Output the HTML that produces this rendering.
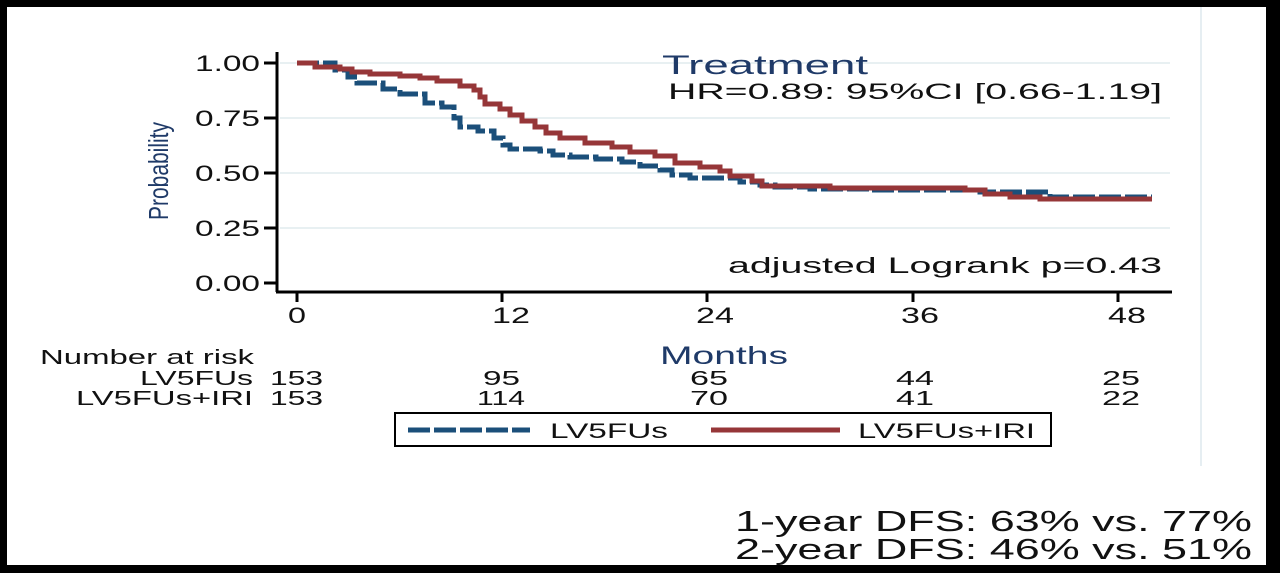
<!DOCTYPE html>
<html><head><style>
body{margin:0;background:#000;}
svg{display:block}
text{font-family:"Liberation Sans",sans-serif}
</style></head><body>
<svg width="1280" height="573" viewBox="0 0 1280 573">
<rect x="0" y="0" width="1280" height="573" fill="#000"/>
<rect x="7" y="7" width="1259" height="558" fill="#fff"/>
<line x1="1201" y1="7" x2="1201" y2="466" stroke="#e6eef2" stroke-width="2"/>
<g stroke="#e8f0f2" stroke-width="2">
<line x1="280" y1="63" x2="1170" y2="63"/><line x1="280" y1="118" x2="1170" y2="118"/>
<line x1="280" y1="173" x2="1170" y2="173"/><line x1="280" y1="228" x2="1170" y2="228"/>
</g>
<g stroke="#000" stroke-width="3" fill="none">
<line x1="277" y1="52" x2="277" y2="292"/><line x1="276" y1="292" x2="1172" y2="292"/>
<line x1="264" y1="63" x2="277" y2="63"/><line x1="264" y1="118" x2="277" y2="118"/>
<line x1="264" y1="173" x2="277" y2="173"/><line x1="264" y1="228" x2="277" y2="228"/>
<line x1="264" y1="283" x2="277" y2="283"/>
<line x1="297" y1="292" x2="297" y2="302"/><line x1="502" y1="292" x2="502" y2="302"/>
<line x1="707" y1="292" x2="707" y2="302"/><line x1="913" y1="292" x2="913" y2="302"/>
<line x1="1118" y1="292" x2="1118" y2="302"/>
</g>
<g font-size="22" fill="#111" lengthAdjust="spacingAndGlyphs">
<text x="195" y="71" textLength="65" lengthAdjust="spacingAndGlyphs">1.00</text>
<text x="195" y="126" textLength="65" lengthAdjust="spacingAndGlyphs">0.75</text>
<text x="195" y="181" textLength="65" lengthAdjust="spacingAndGlyphs">0.50</text>
<text x="195" y="236" textLength="65" lengthAdjust="spacingAndGlyphs">0.25</text>
<text x="195" y="291" textLength="65" lengthAdjust="spacingAndGlyphs">0.00</text>
</g>
<g font-size="22" fill="#111">
<text x="288" y="323" textLength="18" lengthAdjust="spacingAndGlyphs">0</text>
<text x="492" y="323" textLength="38" lengthAdjust="spacingAndGlyphs">12</text>
<text x="696" y="323" textLength="38" lengthAdjust="spacingAndGlyphs">24</text>
<text x="901" y="323" textLength="38" lengthAdjust="spacingAndGlyphs">36</text>
<text x="1108" y="323" textLength="38" lengthAdjust="spacingAndGlyphs">48</text>
</g>
<text transform="translate(168,171) rotate(-90)" font-size="28" fill="#1f3a68" text-anchor="middle" textLength="98" lengthAdjust="spacingAndGlyphs">Probability</text>
<polyline fill="none" stroke="#1b4f7a" stroke-width="5" stroke-dasharray="22,4" points="
297,63 335,63 335,70 348,70 348,77 357,77 357,83 383,83 383,89 400,89 400,94 425,94 425,103 442,103 442,107 454,107 454,118 460,118 460,127 478,127 478,131 494,131 494,138 503,138 503,145 510,145 510,149 540,149 540,151 553,151 553,155 570,155 570,157 596,157 596,159 622,159 622,162 640,162 640,166 660,166 660,170 672,170 672,175 690,175 690,178 740,178 740,182 760,182 760,185 775,185 775,187 810,187 810,189 870,189 870,190 980,190 980,192 1050,192 1050,197 1152,197"/>
<polyline fill="none" stroke="#963638" stroke-width="5" points="
297,63 315,63 315,67 340,67 340,69 352,69 352,72 370,72 370,74 400,74 400,76 420,76 420,78 437,78 437,81 460,81 460,86 474,86 474,90 480,90 480,97 485,97 485,104 500,104 500,109 510,109 510,115 522,115 522,121 535,121 535,127 546,127 546,133 560,133 560,138 585,138 585,143 612,143 612,147 630,147 630,152 655,152 655,156 675,156 675,163 700,163 700,167 720,167 720,171 730,171 730,176 752,176 752,181 762,181 762,186 830,186 830,188 965,188 965,190 985,190 985,194 1010,194 1010,197 1040,197 1040,199 1152,199"/>
<text x="662" y="74" font-size="27" fill="#1f3a68" textLength="206" lengthAdjust="spacingAndGlyphs">Treatment</text>
<text x="668" y="99" font-size="22" fill="#111" textLength="494" lengthAdjust="spacingAndGlyphs">HR=0.89: 95%CI [0.66-1.19]</text>
<text x="728" y="273" font-size="22" fill="#111" textLength="434" lengthAdjust="spacingAndGlyphs">adjusted Logrank p=0.43</text>
<text x="40" y="364" font-size="20" fill="#111" textLength="214" lengthAdjust="spacingAndGlyphs">Number at risk</text>
<text x="660" y="364" font-size="25" fill="#1f3a68" textLength="128" lengthAdjust="spacingAndGlyphs">Months</text>
<g font-size="20" fill="#111">
<text x="140" y="385" textLength="113" lengthAdjust="spacingAndGlyphs">LV5FUs</text>
<text x="76" y="405" textLength="177" lengthAdjust="spacingAndGlyphs">LV5FUs+IRI</text>
<text x="270" y="385" textLength="53" lengthAdjust="spacingAndGlyphs">153</text>
<text x="270" y="405" textLength="53" lengthAdjust="spacingAndGlyphs">153</text>
<text x="483" y="385" textLength="37" lengthAdjust="spacingAndGlyphs">95</text>
<text x="477" y="405" textLength="48" lengthAdjust="spacingAndGlyphs">114</text>
<text x="690" y="385" textLength="38" lengthAdjust="spacingAndGlyphs">65</text>
<text x="690" y="405" textLength="38" lengthAdjust="spacingAndGlyphs">70</text>
<text x="896" y="385" textLength="38" lengthAdjust="spacingAndGlyphs">44</text>
<text x="896" y="405" textLength="38" lengthAdjust="spacingAndGlyphs">41</text>
<text x="1102" y="385" textLength="38" lengthAdjust="spacingAndGlyphs">25</text>
<text x="1102" y="405" textLength="38" lengthAdjust="spacingAndGlyphs">22</text>
</g>
<rect x="395" y="413" width="656" height="33" fill="none" stroke="#000" stroke-width="2"/>
<line x1="408" y1="430" x2="530" y2="430" stroke="#1b4f7a" stroke-width="5" stroke-dasharray="22,4"/>
<text x="550" y="438" font-size="21" fill="#111" textLength="118" lengthAdjust="spacingAndGlyphs">LV5FUs</text>
<line x1="711" y1="430" x2="840" y2="430" stroke="#963638" stroke-width="5"/>
<text x="858" y="438" font-size="21" fill="#111" textLength="177" lengthAdjust="spacingAndGlyphs">LV5FUs+IRI</text>
<text x="735" y="531" font-size="29" fill="#111" textLength="517" lengthAdjust="spacingAndGlyphs">1-year DFS: 63% vs. 77%</text>
<text x="735" y="559" font-size="29" fill="#111" textLength="517" lengthAdjust="spacingAndGlyphs">2-year DFS: 46% vs. 51%</text>
</svg>
</body></html>
